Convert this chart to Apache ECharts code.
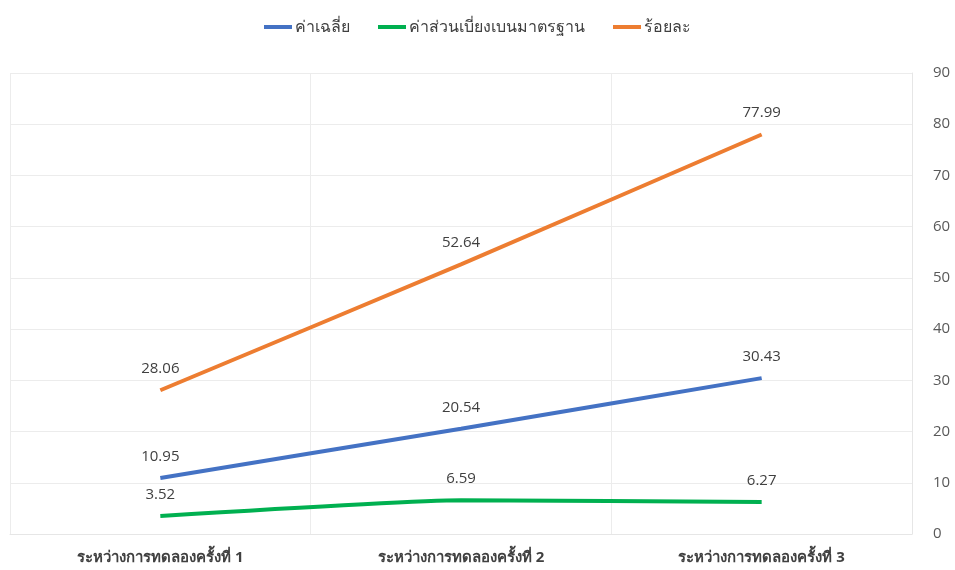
<!DOCTYPE html>
<html>
<head>
<meta charset="utf-8">
<script src="https://cdn.jsdelivr.net/npm/echarts@6/dist/echarts.min.js"></script>
<style>
  html, body { margin: 0; padding: 0; background: #fff; }
  #main { width: 955px; height: 570px; }
</style>
</head>
<body>
<div id="main"></div>
<script>
var categories = ['ระหว่างการทดลองครั้งที่ 1', 'ระหว่างการทดลองครั้งที่ 2', 'ระหว่างการทดลองครั้งที่ 3'];
var meanValues = [10.95, 20.54, 30.43];
var sdValues = [3.52, 6.59, 6.27];
var pctValues = [28.06, 52.64, 77.99];
var yTicks = [0, 90, 10];

var chart = echarts.init(document.getElementById('main'));

function lineSeries(name, data, color) {
    return {
        name: name,
        type: 'line',
        data: data,
        smooth: 0.15,
        symbol: 'circle',
        symbolSize: 0,
        lineStyle: { color: color, width: 4 },
        itemStyle: { color: color },
        label: {
            show: true,
            position: 'top',
            distance: 14,
            color: '#404040',
            fontSize: 15,
            fontFamily: 'Open Sans, sans-serif'
        }
    };
}

var option = {
    animation: false,
    textStyle: { fontFamily: 'Open Sans, sans-serif' },
    legend: {
        top: 14,
        left: 'center',
        icon: 'rect',
        itemWidth: 28,
        itemHeight: 4,
        itemGap: 28,
        textStyle: { color: '#404040', fontSize: 16, padding: [0, 0, 0, -2] },
        data: ['ค่าเฉลี่ย', 'ค่าส่วนเบี่ยงเบนมาตรฐาน', 'ร้อยละ']
    },
    grid: { left: 10, right: 43, top: 73, bottom: 36 },
    xAxis: {
        type: 'category',
        data: categories,
        boundaryGap: true,
        axisLine: { show: true, lineStyle: { color: '#e6e6e6' } },
        axisTick: { show: false },
        splitLine: { show: true, lineStyle: { color: '#ececec' } },
        axisLabel: { color: '#404040', fontSize: 15, fontWeight: 'bold', margin: 16 }
    },
    yAxis: {
        type: 'value',
        position: 'right',
        min: yTicks[0],
        max: yTicks[1],
        interval: yTicks[2],
        axisLine: { show: true, lineStyle: { color: '#e6e6e6' } },
        axisTick: { show: false },
        splitLine: { show: true, lineStyle: { color: '#ececec' } },
        axisLabel: { color: '#595959', fontSize: 15, margin: 21 }
    },
    series: [
        lineSeries('ค่าเฉลี่ย', meanValues, '#4472C4'),
        lineSeries('ค่าส่วนเบี่ยงเบนมาตรฐาน', sdValues, '#00B050'),
        lineSeries('ร้อยละ', pctValues, '#ED7D31')
    ]
};
chart.setOption(option);
</script>
</body>
</html>
